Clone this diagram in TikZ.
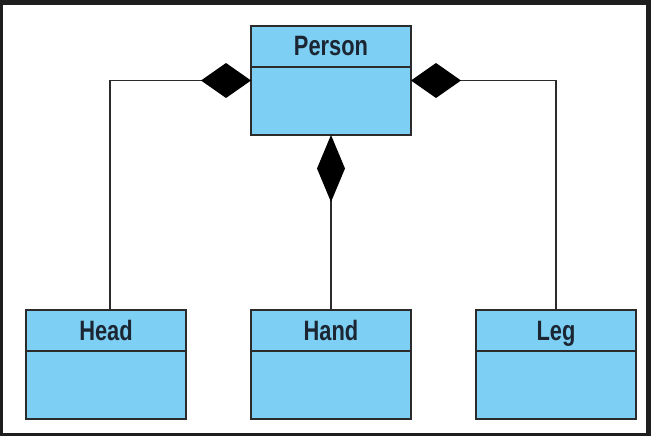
\documentclass[tikz,border=0pt]{standalone}
\usepackage{fontspec}
\usepackage{graphicx}
\usetikzlibrary{shapes.multipart,arrows.meta}
\newfontfamily\umlfont{Liberation Sans}
\definecolor{umlblue}{HTML}{7DCFF3}
\definecolor{umlline}{HTML}{2B2B2B}
\definecolor{umltext}{HTML}{1C2633}
\definecolor{framegray}{HTML}{1E1E1E}
\newcommand{\cname}[1]{\scalebox{0.78}[1]{\umlfont\bfseries\fontsize{28}{28}\selectfont #1}}
\begin{document}
\begin{tikzpicture}[x=1pt,y=-1pt,
  cls/.style={draw=umlline, line width=2pt, fill=umlblue, text=umltext,
    rectangle split, rectangle split parts=2, text width=160pt, align=center,
    inner xsep=0pt, inner ysep=0pt, outer sep=0pt, anchor=north},
  comp/.style={draw=umlline, line width=1.7pt}]
\fill[framegray] (0,0) rectangle (651,436);
\fill[white] (3,5) rectangle (646,433);
\node[cls] (person) at (331,26) {\cname{Person}\rule[-10pt]{0pt}{39pt}\nodepart{second}\rule{0pt}{66pt}};
\node[cls] (head) at (106,310) {\cname{Head}\rule[-10pt]{0pt}{39pt}\nodepart{second}\rule{0pt}{66pt}};
\node[cls] (hand) at (331,310) {\cname{Hand}\rule[-10pt]{0pt}{39pt}\nodepart{second}\rule{0pt}{66pt}};
\node[cls] (leg) at (556,310) {\cname{Leg}\rule[-10pt]{0pt}{39pt}\nodepart{second}\rule{0pt}{66pt}};
\path[comp,{Diamond[length=50pt,width=35pt,color=black]}-] (person.west) -| ([xshift=4pt]head.north);
\path[comp,{Diamond[length=67pt,width=28pt,color=black]}-] (person.south) -- (hand.north);
\path[comp,{Diamond[length=50pt,width=35pt,color=black]}-] (person.east) -| (leg.north);
\end{tikzpicture}
\end{document}
